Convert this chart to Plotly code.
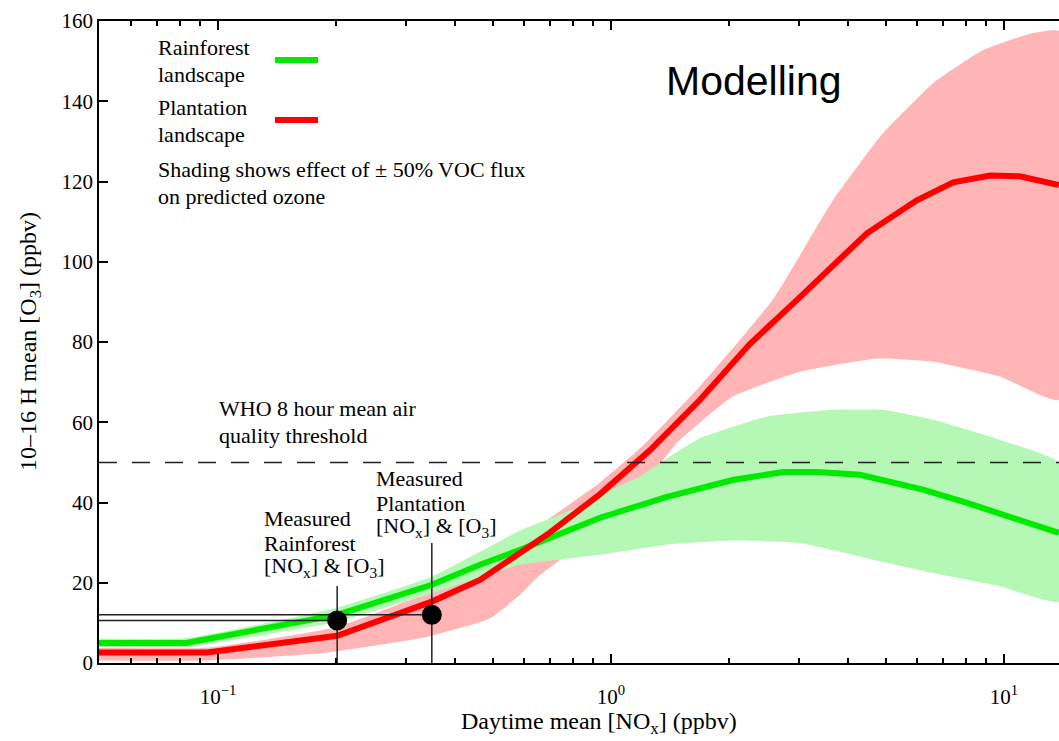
import numpy as np
import plotly.graph_objects as go

# ---- modelled ozone vs NOx (ppbv) ----
# Rainforest landscape: central run and the +/-50% VOC flux envelope
rain_x = [0.0498, 0.083, 0.201, 0.35, 0.464, 0.587, 0.938, 1.388, 2.04, 2.74, 3.34, 4.30, 6.22, 8.05, 13.8]
rain_o3 = [5.0, 5.0, 12.0, 19.5, 24.5, 28.2, 36.2, 41.4, 45.6, 47.6, 47.6, 46.9, 43.2, 39.9, 32.4]
rain_hi_x = [0.0498, 0.083, 0.201, 0.35, 0.464, 0.587, 0.834, 0.938, 1.185, 1.388, 1.685, 2.49, 3.67, 4.92, 6.6, 9.77, 13.8]
rain_hi = [6.1, 6.2, 13.8, 21.5, 27.7, 33.0, 39.0, 42.0, 46.5, 51.0, 56.0, 61.4, 63.1, 63.1, 60.6, 55.6, 49.9]
rain_lo_x = [0.0498, 0.083, 0.201, 0.35, 0.587, 0.938, 1.388, 2.04, 3.03, 4.48, 6.6, 9.77, 13.8]
rain_lo = [4.0, 4.0, 10.3, 17.3, 24.5, 27.0, 29.5, 30.5, 29.9, 26.1, 22.4, 19.1, 15.3]

# Plantation landscape: central run and envelope
plant_x = [0.0498, 0.0937, 0.201, 0.35, 0.464, 0.587, 0.688, 0.938, 1.054, 1.256, 1.685,
           2.256, 2.975, 4.48, 6.0, 7.43, 9.22, 10.97, 13.8]
plant_o3 = [2.6, 2.6, 6.8, 15.3, 20.7, 27.2, 32.0, 42.1, 46.5, 53.0, 65.6,
            79.5, 90.5, 107.1, 115.3, 119.8, 121.5, 121.3, 119.1]
plant_hi_x = [0.0498, 0.0937, 0.201, 0.35, 0.587, 0.938, 1.185, 1.685, 2.58, 3.67, 4.92, 6.6, 8.83, 11.84, 13.8]
plant_hi = [3.8, 3.8, 9.0, 18.0, 31.0, 45.0, 53.5, 69.0, 90.5, 115.3, 132.0, 144.5, 152.7, 157.0, 157.5]
plant_lo_x = [0.0498, 0.0937, 0.185, 0.34, 0.49, 0.587, 0.66, 0.80, 0.938, 1.185, 1.47, 2.04, 3.02, 4.75, 6.6, 9.77, 13.8]
plant_lo = [0.6, 0.6, 2.5, 6.5, 11.0, 17.0, 22.0, 28.0, 33.0, 43.0, 54.8, 66.4, 72.6, 75.9, 75.1, 71.4, 65.6]

# Measured site values (rainforest, plantation)
meas_nox = [0.201, 0.35]
meas_o3 = [10.6, 12.0]
meas_label_top = [19.2, 29.9]

who_threshold = 50
x_min, x_max = 0.0498, 13.8
y_min, y_max = 0, 160

major_ticks = [0.1, 1, 10]
major_text = ["10<sup>\u22121</sup>", "10<sup>0</sup>", "10<sup>1</sup>"]
minor_ticks = [m * d for d in (0.01, 0.1, 1, 10) for m in range(2, 10) if x_min <= m * d <= x_max]

GREEN = "#00ea00"
GREEN_BAND = "#b5f7b5"
RED = "#ff0000"
RED_BAND = "#ffb5b5"
SERIF = "Liberation Serif, Times New Roman, serif"

fig = go.Figure()


def band(xh, yh, xl, yl, color):
    return go.Scatter(x=list(xh) + list(xl)[::-1], y=list(yh) + list(yl)[::-1],
                      fill="toself", fillcolor=color, mode="lines",
                      line=dict(width=0, color=color, shape="spline", smoothing=0.4),
                      hoverinfo="skip", showlegend=False)


fig.add_trace(band(plant_hi_x, plant_hi, plant_lo_x, plant_lo, RED_BAND))
fig.add_trace(band(rain_hi_x, rain_hi, rain_lo_x, rain_lo, GREEN_BAND))
fig.add_trace(go.Scatter(x=rain_x, y=rain_o3, mode="lines", line=dict(color=GREEN, width=6),
                         showlegend=False))
fig.add_trace(go.Scatter(x=plant_x, y=plant_o3, mode="lines", line=dict(color=RED, width=6),
                         showlegend=False))

# leader lines from the measurements to the axes and labels
for nox, o3, top in zip(meas_nox, meas_o3, meas_label_top):
    fig.add_trace(go.Scatter(x=[x_min, nox], y=[o3, o3], mode="lines",
                             line=dict(color="#222", width=1.5), showlegend=False))
    fig.add_trace(go.Scatter(x=[nox, nox], y=[y_min, top], mode="lines",
                             line=dict(color="#222", width=1.5), showlegend=False))
fig.add_trace(go.Scatter(x=meas_nox, y=meas_o3, mode="markers",
                         marker=dict(color="black", size=20), showlegend=False))

fig.add_shape(type="line", xref="paper", yref="y", x0=0, x1=1, y0=who_threshold, y1=who_threshold,
              line=dict(color="#222", width=1.5, dash="18px,15px"))

# pixel helpers for the text block placement
PL, PR, PT, PB = 99, 1059, 21, 663


def fx(px):
    return (px - PL) / (PR - PL)


def fy(py):
    return (PB - py) / (PB - PT)


def text(s, px, baseline, size=22, family=SERIF, anchor="left"):
    fig.add_annotation(text=s, x=fx(px), y=fy(baseline - 0.35 * size), xref="paper", yref="paper",
                       xanchor=anchor, yanchor="middle", showarrow=False, borderpad=0,
                       font=dict(family=family, size=size, color="black"))


text("Rainforest", 157, 55)
text("landscape", 157, 82)
text("Plantation", 157, 115)
text("landscape", 157, 142)
text("Shading shows effect of \u00b1 50% VOC flux", 157, 177)
text("on predicted ozone", 157, 204)
text("WHO 8 hour mean air", 218, 416)
text("quality threshold", 218, 443)
text("Measured", 263, 526)
text("Rainforest", 263, 551)
text("[NO<sub>x</sub>] & [O<sub>3</sub>]", 263, 575)
text("Measured", 375, 486)
text("Plantation", 375, 511)
text("[NO<sub>x</sub>] & [O<sub>3</sub>]", 375, 535)
text("Modelling", 665, 95, size=41, family="Liberation Sans, Arial, sans-serif")
text("Daytime mean [NO<sub>x</sub>] (ppbv)", 599, 731, size=24, anchor="center")

fig.add_annotation(text="10\u201316 H mean [O<sub>3</sub>] (ppbv)", x=fx(30), y=fy(342),
                   xref="paper", yref="paper", xanchor="center", yanchor="middle",
                   textangle=-90, showarrow=False,
                   font=dict(family=SERIF, size=24, color="black"))

# legend swatches
for py, col in ((60, GREEN), (120, RED)):
    fig.add_shape(type="line", xref="paper", yref="paper", x0=fx(275), x1=fx(318),
                  y0=fy(py), y1=fy(py), line=dict(color=col, width=6))

fig.update_layout(
    width=1059, height=741,
    margin=dict(l=PL, r=1059 - PR, t=PT, b=741 - PB),
    paper_bgcolor="white", plot_bgcolor="white",
    font=dict(family=SERIF, color="black"),
    xaxis=dict(type="log", range=[np.log10(x_min), np.log10(x_max)],
               tickmode="array", tickvals=major_ticks, ticktext=major_text,
               ticks="inside", ticklen=9, tickwidth=1.5, tickcolor="black",
               minor=dict(tickmode="array", tickvals=minor_ticks, ticks="inside",
                          ticklen=5, tickwidth=1.5, tickcolor="black"),
               showline=True, linecolor="black", linewidth=1.5, mirror="ticks",
               showgrid=False, zeroline=False, ticklabelstandoff=14,
               tickfont=dict(family=SERIF, size=21)),
    yaxis=dict(range=[y_min, y_max], tickmode="linear", tick0=0, dtick=20,
               ticks="inside", ticklen=9, tickwidth=1.5, tickcolor="black",
               showline=True, linecolor="black", linewidth=1.5, mirror=False,
               showgrid=False, zeroline=False, tickfont=dict(family=SERIF, size=21)),
)

fig.write_html("out.html")
